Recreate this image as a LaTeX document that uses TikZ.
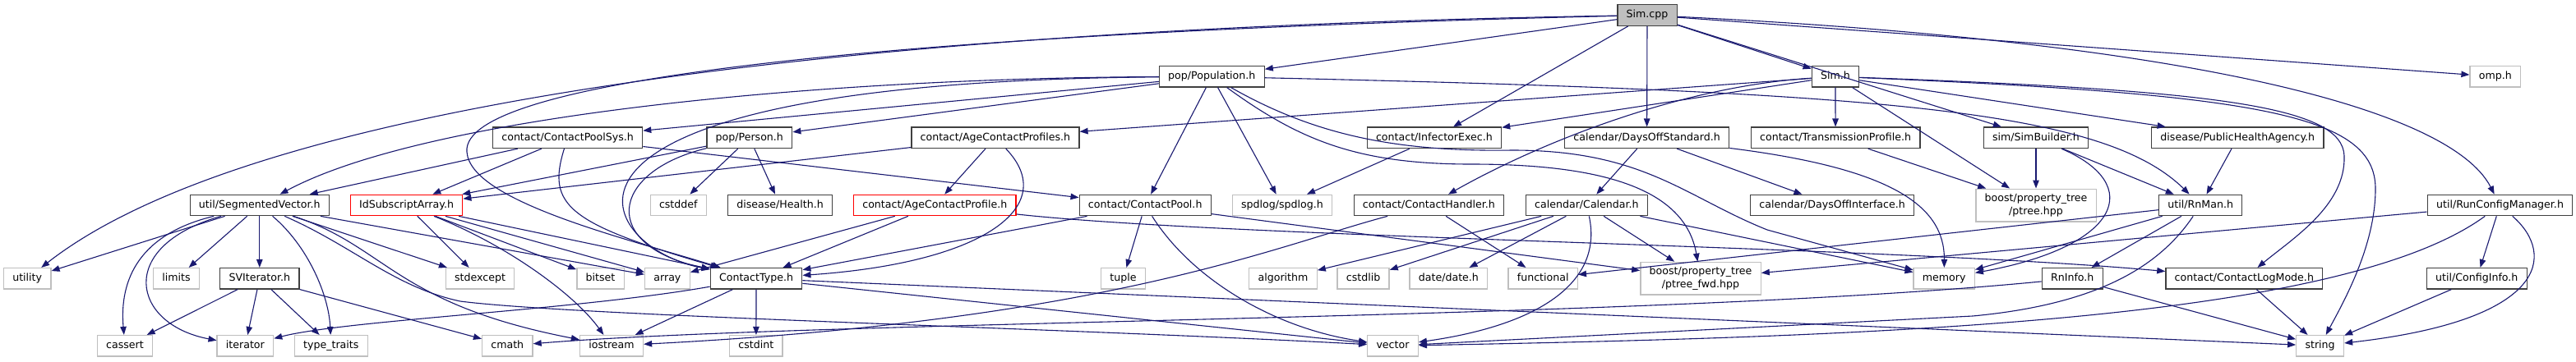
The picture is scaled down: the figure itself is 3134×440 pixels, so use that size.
\documentclass[tikz,border=0pt]{standalone}
\usepackage{fontspec}
\setmainfont{DejaVu Sans}
\usetikzlibrary{arrows.meta}
\definecolor{edgecol}{HTML}{191970}
\definecolor{extgray}{HTML}{BFBFBF}
\definecolor{rootgray}{HTML}{BFBFBF}
\definecolor{docborder}{HTML}{404040}
\begin{document}
\begin{tikzpicture}[x=1pt,y=-1pt,
  box/.style={draw, line width=1.3pt, fill=white, font=\fontsize{12.6pt}{16pt}\selectfont,
    inner xsep=10.8pt, inner ysep=0pt, minimum height=25.4pt, text height=9.6pt, text depth=2.8pt},
  doc/.style={box, draw=docborder},
  ext/.style={box, draw=extgray},
  redbox/.style={box, draw=red},
  ext2/.style={draw=extgray, line width=1.3pt, fill=white, font=\fontsize{12.6pt}{16pt}\selectfont,
    inner xsep=10.8pt, inner ysep=0pt, minimum height=39.7pt, align=center},
  e/.style={draw=edgecol, line width=1.1pt, -{Triangle[length=10pt,width=7.5pt]}}
]
\useasboundingbox (0,0) rectangle (3134,440);
\fill[white] (0,0) rectangle (3134,440);

% row A
\node[doc, fill=rootgray] (simcpp) at (2004,18.5) {Sim.cpp};
% row B
\node[doc] (population) at (1474.3,93.3) {pop/Population.h};
\node[doc] (simh) at (2232.9,93.3) {Sim.h};
\node[ext] (omp) at (3035.8,93.3) {omp.h};
% row C
\node[doc] (cpsys) at (690.6,167.8) {contact/ContactPoolSys.h};
\node[doc] (person) at (911.8,167.8) {pop/Person.h};
\node[doc] (acprofiles) at (1210.9,167.8) {contact/AgeContactProfiles.h};
\node[doc] (infector) at (1744.9,167.8) {contact/InfectorExec.h};
\node[doc] (daysoffstd) at (2003.6,167.8) {calendar/DaysOffStandard.h};
\node[doc] (transprof) at (2233.1,167.8) {contact/TransmissionProfile.h};
\node[doc] (simbuilder) at (2477,167.8) {sim/SimBuilder.h};
\node[doc] (pha) at (2722.3,167.8) {disease/PublicHealthAgency.h};
% row D
\node[doc] (segvec) at (315.8,250) {util/SegmentedVector.h};
\node[redbox] (idsub) at (494.5,250) {IdSubscriptArray.h};
\node[ext] (cstddef) at (825.3,250) {cstddef};
\node[doc] (health) at (949,250) {disease/Health.h};
\node[redbox] (acprofile) at (1137.3,250) {contact/AgeContactProfile.h};
\node[doc] (cpool) at (1393.2,250) {contact/ContactPool.h};
\node[ext] (spdlog) at (1560,250) {spdlog/spdlog.h};
\node[doc] (chandler) at (1738.4,250) {contact/ContactHandler.h};
\node[doc] (calendar) at (1930.4,250) {calendar/Calendar.h};
\node[doc] (daysoffif) at (2229.1,250) {calendar/DaysOffInterface.h};
\node[ext2] (ptree) at (2477,250) {boost/property\_tree\\/ptree.hpp};
\node[doc] (rnman) at (2677.2,250) {util/RnMan.h};
\node[doc] (runcfg) at (3041.5,250) {util/RunConfigManager.h};
% row E
\node[ext] (utility) at (33.2,339.3) {utility};
\node[ext] (limits) at (214.5,339.3) {limits};
\node[doc] (sviter) at (315.8,339.3) {SVIterator.h};
\node[ext] (stdexcept) at (584,339.3) {stdexcept};
\node[ext] (bitset) at (730.5,339.3) {bitset};
\node[ext] (array) at (811.9,339.3) {array};
\node[doc] (ctype) at (920,339.3) {ContactType.h};
\node[ext] (tuple) at (1366.4,339.3) {tuple};
\node[ext] (algorithm) at (1561,339.3) {algorithm};
\node[ext] (cstdlib) at (1658.6,339.3) {cstdlib};
\node[ext] (date) at (1762.4,339.3) {date/date.h};
\node[ext] (functional) at (1877.2,339.3) {functional};
\node[ext2] (ptreefwd) at (2069,339.2) {boost/property\_tree\\/ptree\_fwd.hpp};
\node[ext] (memory) at (2365.2,339.3) {memory};
\node[doc] (rninfo) at (2521.2,339.3) {RnInfo.h};
\node[doc] (clogmode) at (2730.3,339.3) {contact/ContactLogMode.h};
\node[doc] (configinfo) at (3013.3,339.3) {util/ConfigInfo.h};
% row F
\node[ext] (cassert) at (152,421.3) {cassert};
\node[ext] (iterator) at (298.4,421.3) {iterator};
\node[ext] (typetraits) at (402.8,421.3) {type\_traits};
\node[ext] (cmath) at (617.3,421.3) {cmath};
\node[ext] (iostream) at (744,421.3) {iostream};
\node[ext] (cstdint) at (919.9,421.3) {cstdint};
\node[ext] (vector) at (1694.5,421.3) {vector};
\node[ext] (string) at (2822.6,421.3) {string};

% Sim.cpp
\draw[e] (simcpp) -- (population);
\draw[e] (simcpp) -- (simh);
\draw[e] (simcpp) -- (omp);
\draw[e] (simcpp) -- (infector);
\draw[e] (simcpp) -- (daysoffstd);
\draw[e] (simcpp) -- (simbuilder);
\draw[e] (simcpp) .. controls (2650,50) and (2980,130) .. (runcfg);
\draw[e] (simcpp) .. controls (1000,35) and (300,130) .. (utility);
\draw[e] (simcpp) .. controls (1100,40) and (560,95) .. (568,185) .. controls (572,245) and (760,290) .. (ctype);
% Population
\draw[e] (population) .. controls (1000,95) and (520,140) .. (segvec);
\draw[e] (population) -- (cpsys);
\draw[e] (population) -- (person);
\draw[e] (population) .. controls (600,100) and (720,300) .. (ctype);
\draw[e] (population) -- (cpool);
\draw[e] (population) -- (spdlog);
\draw[e] (population) .. controls (2300,112) and (2560,135) .. (rnman);
\draw[e] (population) .. controls (1580,170) and (1650,200) .. (1790,200) .. controls (1950,200) and (2050,230) .. (ptreefwd);
\draw[e] (population) .. controls (1600,165) and (1700,185) .. (1840,183) .. controls (2000,183) and (2050,240) .. (2150,280) -- (memory);
% Sim.h
\draw[e] (simh) -- (acprofiles);
\draw[e] (simh) -- (infector);
\draw[e] (simh) .. controls (2050,105) and (1880,170) .. (chandler);
\draw[e] (simh) -- (transprof);
\draw[e] (simh) -- (ptree);
\draw[e] (simh) -- (pha);
\draw[e] (simh) .. controls (2700,110) and (2850,130) .. (2852,190) .. controls (2854,250) and (2790,290) .. (clogmode);
\draw[e] (simh) .. controls (2750,115) and (2890,140) .. (2890,230) .. controls (2890,300) and (2850,370) .. (string);
% ContactPoolSys
\draw[e] (cpsys) -- (segvec);
\draw[e] (cpsys) -- (idsub);
\draw[e] (cpsys) .. controls (665,250) and (690,272) .. (ctype);
\draw[e] (cpsys) -- (cpool);
% Person
\draw[e] (person) -- (idsub);
\draw[e] (person) .. controls (740,210) and (730,300) .. (ctype);
\draw[e] (person) -- (cstddef);
\draw[e] (person) -- (health);
% AgeContactProfiles
\draw[e] (acprofiles) -- (idsub);
\draw[e] (acprofiles) -- (acprofile);
\draw[e] (acprofiles) .. controls (1290,250) and (1200,320) .. (ctype);
% AgeContactProfile
\draw[e] (acprofile) -- (ctype);
\draw[e] (acprofile) -- (array);
\draw[e] (acprofile) .. controls (1500,290) and (2300,300) .. (clogmode);
% ContactPool
\draw[e] (cpool) -- (tuple);
\draw[e] (cpool) .. controls (1450,340) and (1550,400) .. (vector);
\draw[e] (cpool) -- (ctype);
\draw[e] (cpool) -- (ptreefwd);
% InfectorExec
\draw[e] (infector) -- (spdlog);
% DaysOffStandard
\draw[e] (daysoffstd) -- (calendar);
\draw[e] (daysoffstd) -- (daysoffif);
\draw[e] (daysoffstd) .. controls (2300,205) and (2366,250) .. (memory);
% ContactHandler
\draw[e] (chandler) -- (functional);
\draw[e] (chandler) .. controls (1550,300) and (1350,390) .. (iostream);
% Calendar
\draw[e] (calendar) -- (algorithm);
\draw[e] (calendar) -- (cstdlib);
\draw[e] (calendar) -- (date);
\draw[e] (calendar) .. controls (1950,340) and (1880,395) .. (vector);
\draw[e] (calendar) -- (ptreefwd);
\draw[e] (calendar) -- (memory);
% TransmissionProfile, SimBuilder, PHA
\draw[e] (transprof) -- (ptree);
\draw[e] (simbuilder) -- (ptree);
\draw[e] (simbuilder) -- (rnman);
\draw[e] (simbuilder) .. controls (2610,225) and (2580,300) .. (memory);
\draw[e] (pha) -- (rnman);
% RnMan
\draw[e] (rnman) -- (functional);
\draw[e] (rnman) -- (memory);
\draw[e] (rnman) -- (rninfo);
\draw[e] (rnman) .. controls (2630,320) and (2560,370) .. (2400,385) -- (vector);
% RnInfo
\draw[e] (rninfo) -- (string);
\draw[e] (rninfo) .. controls (2000,390) and (1000,390) .. (cmath);
% RunConfigManager
\draw[e] (runcfg) -- (ptreefwd);
\draw[e] (runcfg) -- (configinfo);
\draw[e] (runcfg) .. controls (3110,310) and (3100,390) .. (string);
\draw[e] (runcfg) .. controls (2850,390) and (2300,410) .. (vector);
\draw[e] (configinfo) -- (string);
\draw[e] (clogmode) -- (string);
% ContactType
\draw[e] (ctype) -- (cstdint);
\draw[e] (ctype) -- (iostream);
\draw[e] (ctype) .. controls (700,378) and (420,390) .. (iterator);
\draw[e] (ctype) -- (string);
\draw[e] (ctype) -- (vector);
% SegmentedVector
\draw[e] (segvec) -- (utility);
\draw[e] (segvec) .. controls (170,285) and (145,340) .. (cassert);
\draw[e] (segvec) .. controls (140,300) and (160,395) .. (iterator);
\draw[e] (segvec) -- (limits);
\draw[e] (segvec) -- (sviter);
\draw[e] (segvec) .. controls (375,300) and (400,360) .. (typetraits);
\draw[e] (segvec) -- (stdexcept);
\draw[e] (segvec) -- (array);
\draw[e] (segvec) .. controls (470,300) and (480,370) .. (iostream);
\draw[e] (segvec) .. controls (430,300) and (480,350) .. (560,367) .. controls (700,385) and (1300,400) .. (vector);
% SVIterator
\draw[e] (sviter) -- (cassert);
\draw[e] (sviter) -- (iterator);
\draw[e] (sviter) -- (typetraits);
\draw[e] (sviter) -- (cmath);
% IdSubscriptArray
\draw[e] (idsub) -- (stdexcept);
\draw[e] (idsub) -- (bitset);
\draw[e] (idsub) -- (array);
\draw[e] (idsub) -- (ctype);
\draw[e] (idsub) .. controls (620,300) and (700,360) .. (iostream);
\end{tikzpicture}
\end{document}
